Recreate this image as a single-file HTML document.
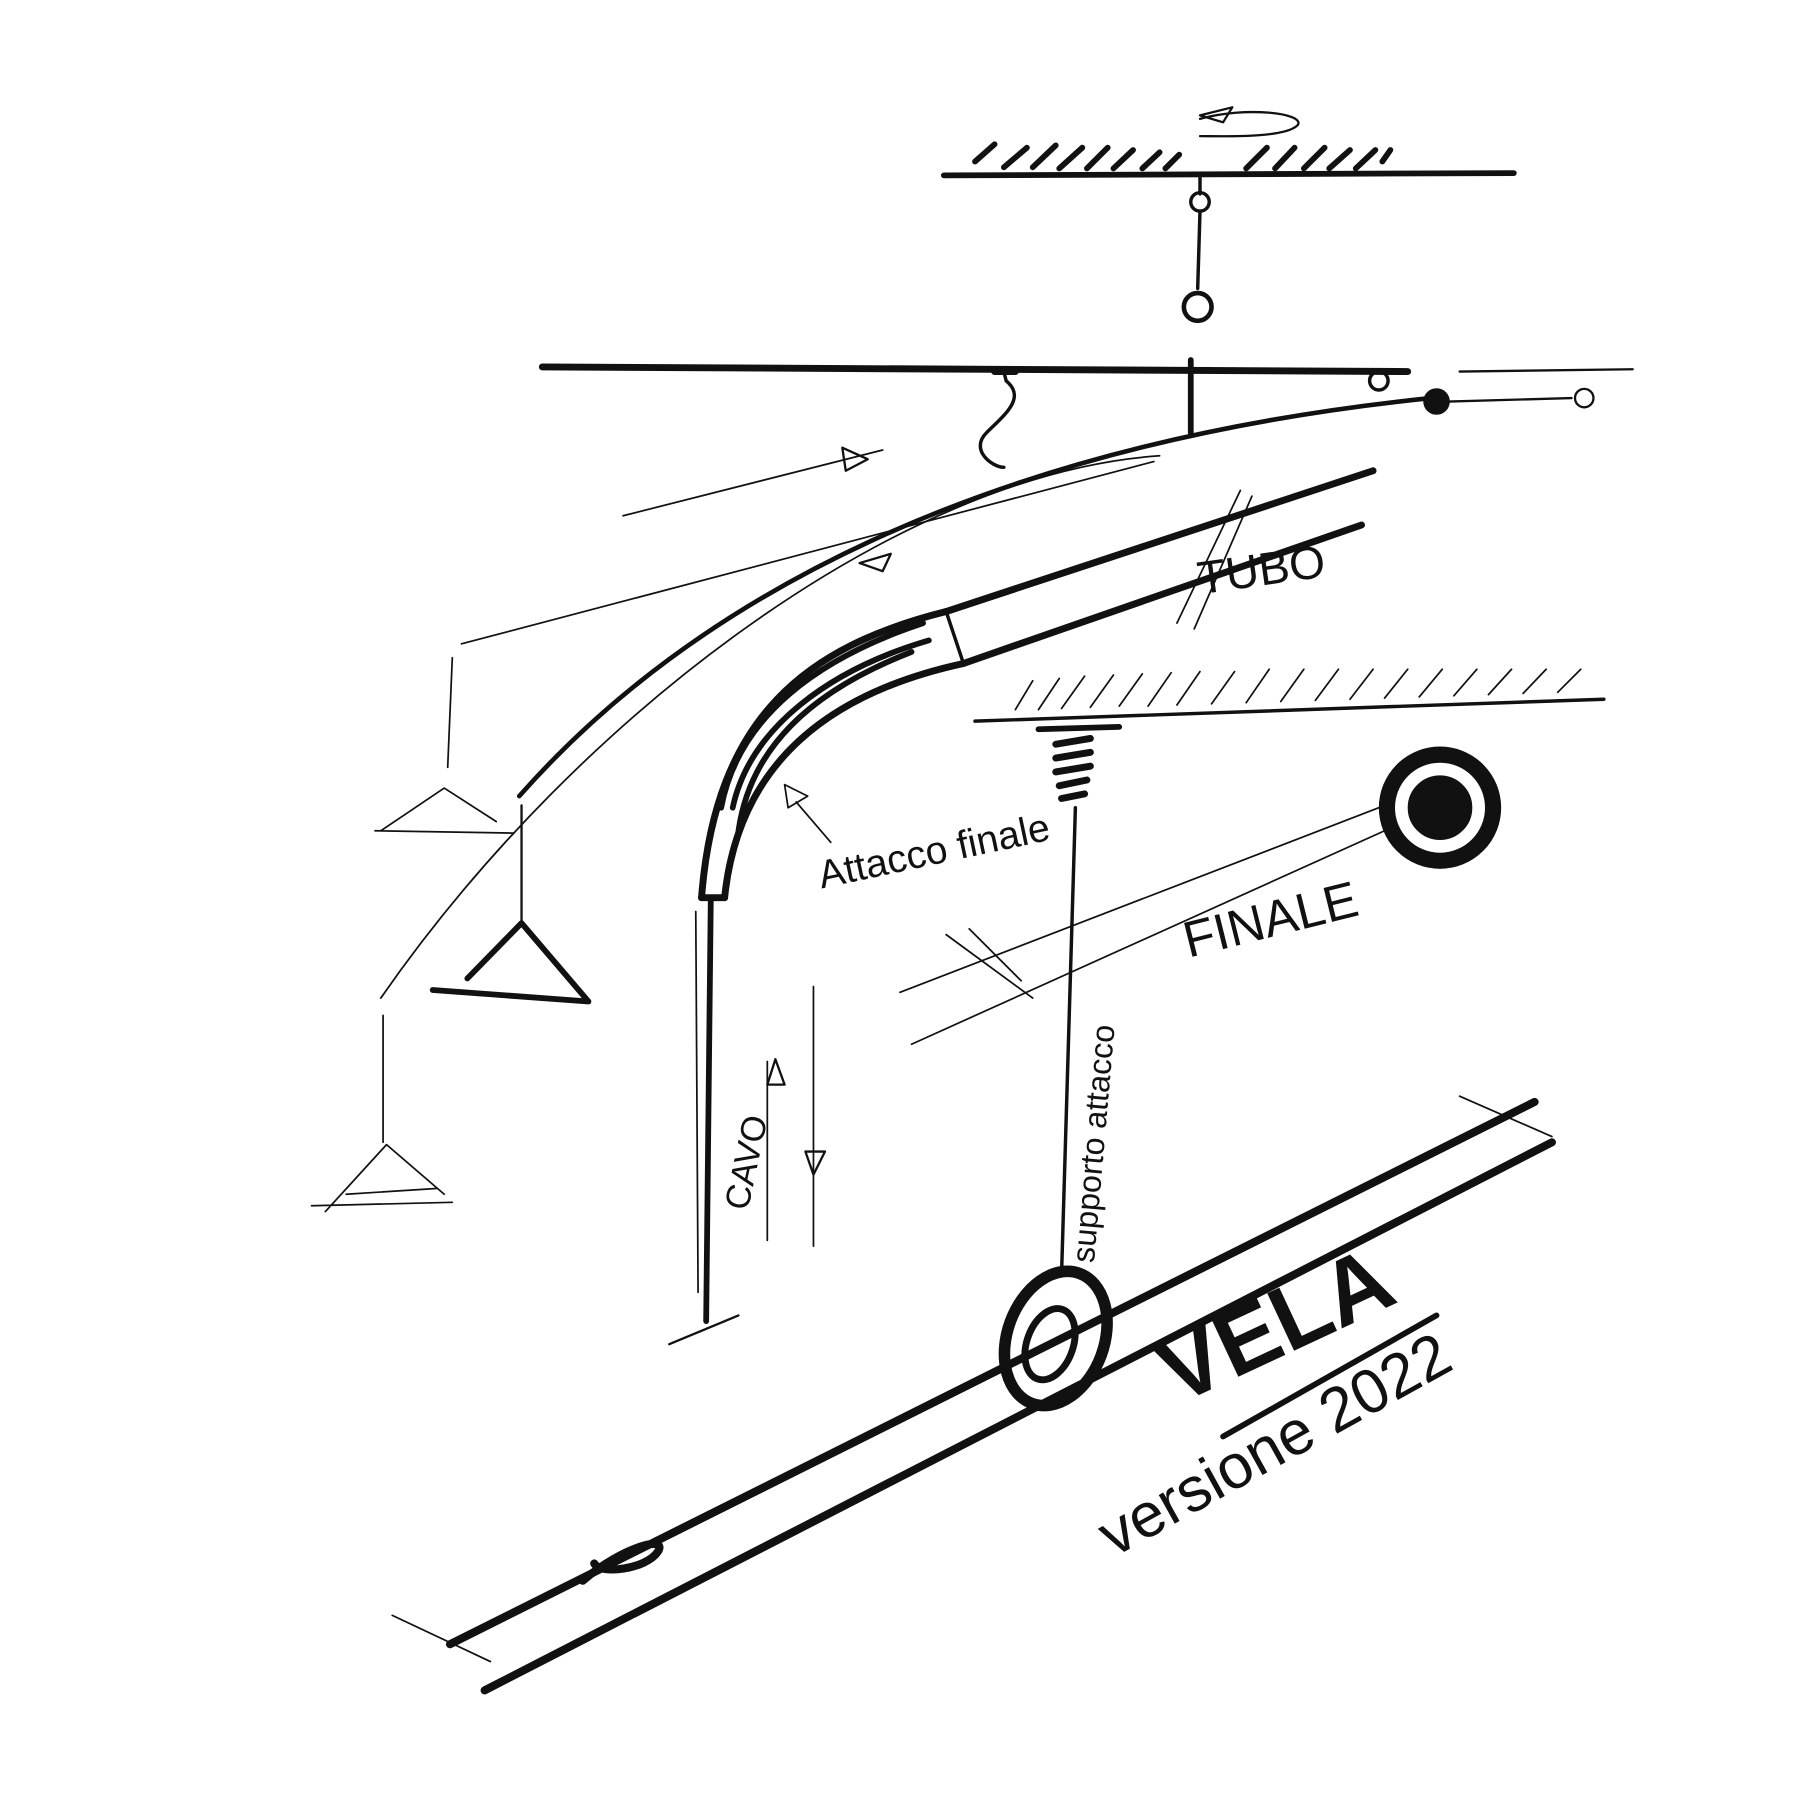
<!DOCTYPE html>
<html><head><meta charset="utf-8"><style>
html,body{margin:0;padding:0;background:#fff;}
svg{display:block}
text{font-family:"Liberation Sans",sans-serif;fill:#111}
</style></head><body>
<svg width="1800" height="1800" viewBox="0 0 1560 1560" xmlns="http://www.w3.org/2000/svg">
<g fill="none" stroke="#111" stroke-linecap="round" stroke-linejoin="round">
<path d="M818,152 L1312,150" stroke-width="5"/>
<g stroke-width="5">
<path d="M845,140 L862,125"/><path d="M870,145 L890,128"/><path d="M895,145 L915,126"/><path d="M918,146 L938,128"/><path d="M942,146 L960,128"/><path d="M965,146 L982,130"/><path d="M990,146 L1005,132"/><path d="M1010,146 L1022,134"/><path d="M1080,146 L1098,128"/><path d="M1105,146 L1122,128"/><path d="M1130,146 L1148,128"/><path d="M1152,146 L1170,130"/><path d="M1175,146 L1192,130"/><path d="M1198,140 L1205,130"/>
</g>
<path d="M1040,103 C1080,92 1130,98 1125,108 C1115,120 1060,118 1040,118" stroke-width="2"/>
<path d="M1040,100 L1068,93 L1060,106 Z" stroke-width="2"/>
<path d="M1040,152 L1040,168" stroke-width="3"/>
<circle cx="1040" cy="175" r="8" stroke-width="3"/>
<path d="M1040,183 L1038,250" stroke-width="3"/>
<circle cx="1038" cy="266" r="12" stroke-width="4"/>
<path d="M470,318 L1220,322" stroke-width="6"/>
<path d="M1265,322 L1415,320" stroke-width="2"/>
<path d="M1032,312 L1032,375" stroke-width="5"/>
<circle cx="1195" cy="330" r="8" stroke-width="3"/>
<circle cx="1245" cy="348" r="10" fill="#111" stroke-width="3"/>
<circle cx="1373" cy="345" r="8" stroke-width="2"/>
<path d="M1255,348 L1362,345" stroke-width="2"/>
<path d="M870,322 L872,330 C890,345 870,360 855,375 C840,390 860,405 870,405" stroke-width="3"/>
<path d="M862,322 L880,322" stroke-width="6"/>
<path d="M450,690 C600,520 850,385 1240,345" stroke-width="4"/>
<path d="M330,865 C500,620 780,410 1005,395" stroke-width="1.5"/>
<path d="M540,447 L765,390" stroke-width="1.5"/>
<path d="M730,388 L752,398 L733,408 Z" stroke-width="2"/>
<path d="M745,488 L772,480 L765,495 Z" stroke-width="2"/>
<path d="M400,558 L1000,400" stroke-width="1.5"/>
<path d="M392,570 L388,665" stroke-width="1.5"/>
<path d="M325,720 L445,722 M330,720 L385,683 L430,712" stroke-width="1.5"/>
<path d="M452,698 L452,800" stroke-width="2"/>
<path d="M375,858 L510,868 L452,800 L405,848" stroke-width="5"/>
<path d="M332,880 L332,990" stroke-width="1.5"/>
<path d="M270,1045 L392,1042 M282,1050 L335,992 L385,1035 M300,1035 L378,1030" stroke-width="1.5"/>
<path d="M820,530 L1190,408" stroke-width="6"/>
<path d="M835,575 L1180,455" stroke-width="6"/>
<path d="M820,530 L835,575" stroke-width="3"/>
<path d="M1020,540 L1075,425 M1035,545 L1085,430" stroke-width="1.5"/>
<path d="M820,530 C700,560 620,620 608,778" stroke-width="6"/>
<path d="M835,575 C720,600 640,660 628,778" stroke-width="6"/>
<path d="M800,540 C710,570 640,620 625,700 M805,555 C720,580 650,630 635,700 M790,565 C700,600 650,650 640,720" stroke-width="5"/>
<path d="M608,778 L628,778" stroke-width="6"/>
<path d="M680,680 L700,690 L683,700 Z" stroke-width="1.5"/>
<path d="M690,695 L720,730" stroke-width="1.5"/>
<path d="M616,780 L612,1145" stroke-width="5"/>
<path d="M603,790 L605,1120" stroke-width="1.5"/>
<path d="M580,1165 L640,1140" stroke-width="2"/>
<path d="M705,855 L705,1080" stroke-width="1.5"/>
<path d="M665,920 L665,1075" stroke-width="1.5"/>
<path d="M665,940 L672,918 L680,940 Z" stroke-width="2"/>
<path d="M698,998 L715,998 L705,1018 Z" stroke-width="2"/>
<path d="M845,625 L1390,606" stroke-width="3"/>
<g stroke-width="1.5">
<path d="M880,615 L895,590"/><path d="M900,615 L918,588"/><path d="M920,614 L940,586"/><path d="M945,613 L965,585"/><path d="M970,612 L990,584"/><path d="M995,612 L1015,583"/><path d="M1020,611 L1040,582"/><path d="M1050,610 L1070,582"/><path d="M1080,609 L1100,580"/><path d="M1110,608 L1130,580"/><path d="M1140,607 L1160,580"/><path d="M1170,606 L1190,580"/><path d="M1200,605 L1220,580"/><path d="M1230,604 L1250,580"/><path d="M1260,603 L1280,580"/><path d="M1290,602 L1310,580"/><path d="M1320,601 L1340,580"/><path d="M1350,600 L1370,580"/>
</g>
<path d="M900,632 L970,630" stroke-width="5"/>
<path d="M915,645 L945,640 M915,657 L945,652 M915,669 L945,664 M918,681 L942,676 M920,692 L940,688" stroke-width="6"/>
<path d="M932,700 L920,1105" stroke-width="3"/>
<circle cx="1248" cy="700" r="46" stroke-width="14"/>
<circle cx="1248" cy="700" r="26" fill="#111" stroke-width="4"/>
<path d="M1195,700 L780,860" stroke-width="1.5"/>
<path d="M790,905 L1200,720" stroke-width="1.5"/>
<path d="M820,810 L895,865 M840,805 L885,850" stroke-width="1.5"/>
<path d="M390,1425 L1330,955" stroke-width="7"/>
<path d="M420,1465 L1345,990" stroke-width="7"/>
<path d="M340,1400 L425,1440 M1265,950 L1345,985" stroke-width="1.5"/>
<ellipse cx="915" cy="1160" rx="42" ry="60" stroke-width="10" transform="rotate(20 915 1160)"/>
<ellipse cx="910" cy="1165" rx="20" ry="32" stroke-width="6" transform="rotate(20 910 1165)"/>
<path d="M505,1370 C540,1340 580,1330 570,1345 C560,1360 520,1365 515,1355" stroke-width="7"/>
<path d="M1060,1245 L1245,1140" stroke-width="5"/>
</g>
<g fill="#111">
<text x="1040" y="515" transform="rotate(-8 1040 515)" font-size="40">TUBO</text>
<text x="712" y="770" transform="rotate(-12 712 770)" font-size="34">Attacco finale</text>
<text x="1030" y="830" transform="rotate(-14 1030 830)" font-size="44">FINALE</text>
<text x="648" y="1050" transform="rotate(-78 648 1050)" font-size="30">CAVO</text>
<text x="948" y="1095" transform="rotate(-85 948 1095)" font-size="28">supporto attacco</text>
<text x="1020" y="1218" transform="rotate(-25 1020 1218)" font-size="80" font-weight="bold">VELA</text>
<text x="965" y="1350" transform="rotate(-29 965 1350)" font-size="54">versione 2022</text>
</g>
</svg>
</body></html>
